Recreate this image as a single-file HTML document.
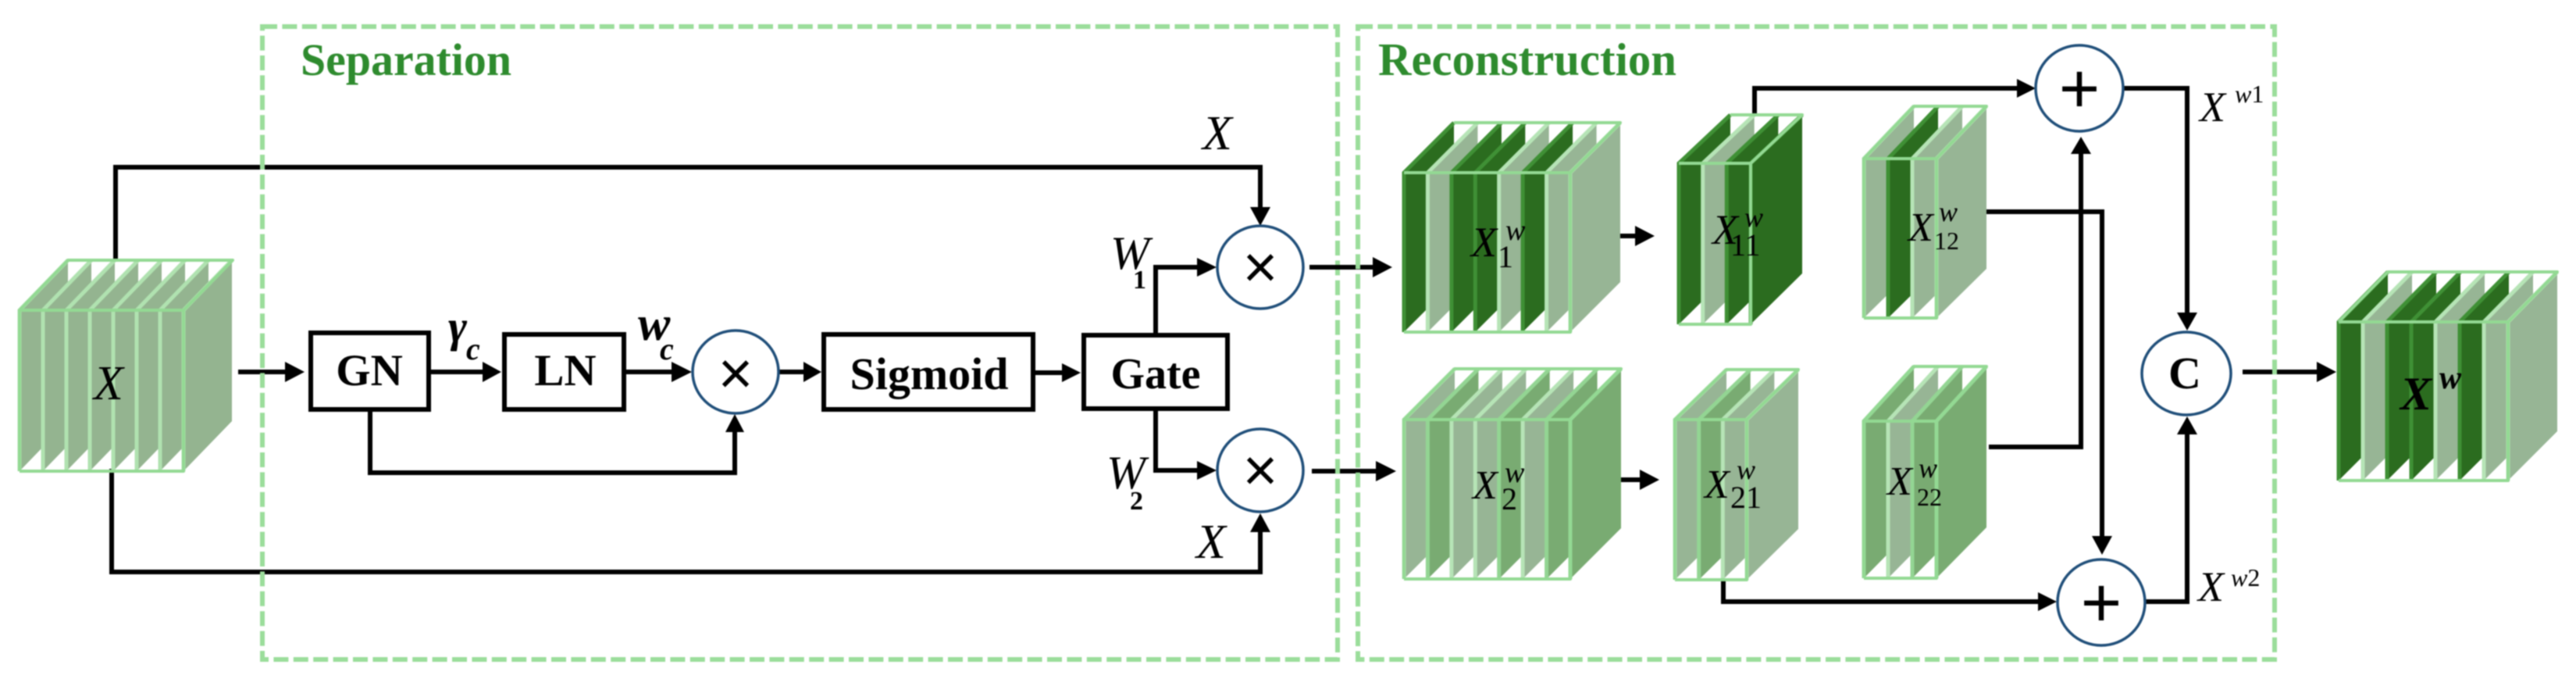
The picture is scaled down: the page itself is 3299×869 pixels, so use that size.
<!DOCTYPE html>
<html><head><meta charset="utf-8"><style>
html,body{margin:0;padding:0;background:#fff;width:3299px;height:869px;overflow:hidden}
svg{display:block;filter:blur(.9px)}
text{font-family:"Liberation Serif",serif;fill:#000}
.i{font-style:italic}.b{font-weight:bold}
.n{font-style:normal}
.sans{font-family:"Liberation Sans",sans-serif}
.l{fill:none;stroke:#000;stroke-width:6}
.box{fill:#fff;stroke:#000;stroke-width:6}
.c{fill:#fff;stroke:#1f4e79;stroke-width:3.5}
.d{fill:none;stroke:#9bdd9b;stroke-width:6;stroke-dasharray:19 6.4}
.fr{fill:none;stroke:#93d993;stroke-width:4;stroke-linejoin:round}
.t{fill:#2e8b2e;font-weight:bold}
.D{fill:#2b6c1f;stroke:#3f9035}
.L{fill:#97b595;stroke:#b6e4b6}
.M{fill:#79ab72;stroke:#93d593}
.G{fill:#94b490;stroke:#b0e2b0}
</style></head><body>
<svg width="3299" height="869" viewBox="0 0 3299 869" xmlns="http://www.w3.org/2000/svg">
<defs>
<g id="sx"><polygon stroke="none" points="0,206 0,0 62,-64 62,142"/><polyline fill="none" stroke-width="5" points="0,206 0,0 62,-64"/></g>
<g id="s1"><polygon stroke="none" points="0,204 0,0 64,-64 64,140"/><polyline fill="none" stroke-width="5" points="0,204 0,0 64,-64"/></g>
<g id="s2"><polygon stroke="none" points="0,204 0,0 65,-65 65,139"/><polyline fill="none" stroke-width="5" points="0,204 0,0 65,-65"/></g>
<g id="s11"><polygon stroke="none" points="0,206 0,0 66,-62 66,141"/><polyline fill="none" stroke-width="5" points="0,206 0,0 66,-62"/></g>
<g id="s21"><polygon stroke="none" points="0,205 0,0 66,-64 66,140"/><polyline fill="none" stroke-width="5" points="0,205 0,0 66,-64"/></g>
<g id="s12"><polygon stroke="none" points="0,204 0,0 64,-67 64,141"/><polyline fill="none" stroke-width="5" points="0,204 0,0 64,-67"/></g>
<g id="s22"><polygon stroke="none" points="0,201 0,0 64,-70 64,136"/><polyline fill="none" stroke-width="5" points="0,201 0,0 64,-70"/></g>
<g id="sw"><polygon stroke="none" points="0,203 0,0 63,-64 63,140"/><polyline fill="none" stroke-width="5" points="0,203 0,0 63,-64"/></g>
</defs>

<!-- connectors -->
<polyline class="l" points="148,333 148,214 1614,214 1614,268"/>
<polygon points="1601,265 1627,265 1614,289"/>
<polyline class="l" points="143,600 143,732 1614,732 1614,678"/>
<polygon points="1601,681 1627,681 1614,657"/>
<line class="l" x1="305" y1="476" x2="368" y2="476"/><polygon points="365,463 390,476 365,489"/>
<line class="l" x1="552" y1="476" x2="620" y2="476"/><polygon points="618,463 642,476 618,489"/>
<line class="l" x1="802" y1="476" x2="865" y2="476"/><polygon points="860,463 886,476 860,489"/>
<line class="l" x1="998" y1="476" x2="1032" y2="476"/><polygon points="1029,463 1052,476 1029,489"/>
<line class="l" x1="1326" y1="477" x2="1362" y2="477"/><polygon points="1360,465 1384,477 1360,489"/>
<polyline class="l" points="474,527 474,605 941,605 941,550"/><polygon points="929,553 953,553 941,530"/>
<polyline class="l" points="1480,428 1480,342 1536,342"/><polygon points="1533,330 1558,342 1533,354"/>
<polyline class="l" points="1480,526 1480,602 1536,602"/><polygon points="1533,590 1558,602 1533,614"/>
<line class="l" x1="1677" y1="342" x2="1762" y2="342"/><polygon points="1758,329 1783,342 1758,355"/>
<line class="l" x1="1680" y1="603" x2="1765" y2="603"/><polygon points="1762,590 1788,603 1762,616"/>
<line class="l" x1="2054" y1="302" x2="2098" y2="302"/><polygon points="2094,289 2119,302 2094,315"/>
<line class="l" x1="2061" y1="614" x2="2104" y2="614"/><polygon points="2100,601 2125,614 2100,627"/>
<polyline class="l" points="2247,148 2247,113 2588,113"/><polygon points="2583,101 2607,113 2583,125"/>
<polyline class="l" points="2207,740 2207,770 2614,770"/><polygon points="2610,758 2634,770 2610,782"/>
<polyline class="l" points="2719,113 2801,113 2801,404"/><polygon points="2788,400 2814,400 2801,423"/>
<polyline class="l" points="2747,770 2801,770 2801,552"/><polygon points="2788,556 2814,556 2801,533"/>
<polyline class="l" points="2543,271 2692,271 2692,690"/><polygon points="2679,686 2705,686 2692,710"/>
<polyline class="l" points="2547,572 2665,572 2665,193"/><polygon points="2652,197 2678,197 2665,175"/>
<line class="l" x1="2872" y1="476" x2="2972" y2="476"/><polygon points="2967,463 2992,476 2967,489"/>

<!-- dashed regions -->
<rect class="d" x="336" y="34" width="1377" height="810"/>
<rect class="d" x="1739" y="34" width="1174" height="810"/>
<line class="l" x1="1700" y1="342" x2="1728" y2="342"/>
<text class="t" x="385" y="96" font-size="58" textLength="270" lengthAdjust="spacingAndGlyphs">Separation</text>
<text class="t" x="1765" y="96" font-size="59" textLength="382" lengthAdjust="spacingAndGlyphs">Reconstruction</text>

<!-- X stack -->
<use href="#sx" class="G" x="25" y="397"/><use href="#sx" class="G" x="55" y="397"/><use href="#sx" class="G" x="85" y="397"/><use href="#sx" class="G" x="115" y="397"/><use href="#sx" class="G" x="145" y="397"/><use href="#sx" class="G" x="175" y="397"/><use href="#sx" class="G" x="205" y="397"/><use href="#sx" class="G" x="235" y="397"/>
<polyline class="fr" points="25,603 25,397 235,397 235,603 25,603"/><polyline class="fr" points="25,397 87,333 298,333 235,397"/>

<!-- X1 -->
<use href="#s1" class="D" x="1798" y="221"/><use href="#s1" class="L" x="1828.4" y="221"/><use href="#s1" class="D" x="1858.9" y="221"/><use href="#s1" class="D" x="1889.3" y="221"/><use href="#s1" class="L" x="1919.7" y="221"/><use href="#s1" class="D" x="1950.1" y="221"/><use href="#s1" class="L" x="1980.6" y="221"/><use href="#s1" class="L" x="2011" y="221"/>
<polyline class="fr" points="1798,425 2011,425 2011,221 1798,221"/><polyline class="fr" points="1862,157 2075,157 2011,221"/>

<!-- X2 -->
<use href="#s2" class="L" x="1798" y="537"/><use href="#s2" class="M" x="1828.4" y="537"/><use href="#s2" class="L" x="1858.9" y="537"/><use href="#s2" class="L" x="1889.3" y="537"/><use href="#s2" class="M" x="1919.7" y="537"/><use href="#s2" class="L" x="1950.1" y="537"/><use href="#s2" class="M" x="1980.6" y="537"/><use href="#s2" class="M" x="2011" y="537"/>
<polyline class="fr" points="1798,741 1798,537 2011,537 2011,741 1798,741"/><polyline class="fr" points="1798,537 1863,472 2076,472 2011,537"/>

<!-- X11 -->
<use href="#s11" class="D" x="2150" y="209"/><use href="#s11" class="L" x="2180.7" y="209"/><use href="#s11" class="D" x="2211.3" y="209"/><use href="#s11" class="D" x="2242" y="209"/>
<polyline class="fr" points="2150,415 2242,415 2242,209 2150,209"/><polyline class="fr" points="2216,147 2308,147 2242,209"/>

<!-- X21 -->
<use href="#s21" class="L" x="2145" y="537"/><use href="#s21" class="M" x="2175.7" y="537"/><use href="#s21" class="L" x="2206.3" y="537"/><use href="#s21" class="L" x="2237" y="537"/>
<polyline class="fr" points="2145,742 2145,537 2237,537 2237,742 2145,742"/><polyline class="fr" points="2145,537 2211,473 2303,473 2237,537"/>

<!-- X12 -->
<use href="#s12" class="L" x="2387" y="203"/><use href="#s12" class="D" x="2418" y="203"/><use href="#s12" class="L" x="2449" y="203"/><use href="#s12" class="L" x="2480" y="203"/>
<polyline class="fr" points="2387,407 2387,203 2480,203 2480,407 2387,407"/><polyline class="fr" points="2387,203 2451,136 2544,136 2480,203"/>

<!-- X22 -->
<use href="#s22" class="M" x="2387" y="539"/><use href="#s22" class="L" x="2418" y="539"/><use href="#s22" class="M" x="2449" y="539"/><use href="#s22" class="M" x="2480" y="539"/>
<polyline class="fr" points="2387,740 2387,539 2480,539 2480,740 2387,740"/><polyline class="fr" points="2387,539 2451,469 2544,469 2480,539"/>

<!-- Xw -->
<use href="#sw" class="D" x="2995" y="412"/><use href="#sw" class="L" x="3026" y="412"/><use href="#sw" class="D" x="3057" y="412"/><use href="#sw" class="D" x="3088" y="412"/><use href="#sw" class="L" x="3119" y="412"/><use href="#sw" class="D" x="3150" y="412"/><use href="#sw" class="L" x="3181" y="412"/><use href="#sw" class="L" x="3212" y="412"/>
<polyline class="fr" points="2995,615 3212,615 3212,412 2995,412"/><polyline class="fr" points="2995,412 3058,348 3275,348 3212,412"/>

<!-- boxes -->
<rect class="box" x="398" y="426" width="151" height="98"/>
<rect class="box" x="646" y="428" width="153" height="96"/>
<rect class="box" x="1055" y="428" width="268" height="96"/>
<rect class="box" x="1388" y="429" width="184" height="94"/>
<text class="b" x="473" y="493" font-size="57" text-anchor="middle">GN</text>
<text class="b" x="724" y="493" font-size="57" text-anchor="middle">LN</text>
<text class="b" x="1190" y="498" font-size="58" text-anchor="middle">Sigmoid</text>
<text class="b" x="1480" y="497" font-size="56" text-anchor="middle">Gate</text>

<!-- circles -->
<ellipse class="c" cx="942" cy="476" rx="55" ry="53"/>
<ellipse class="c" cx="1614" cy="342" rx="55" ry="53"/>
<ellipse class="c" cx="1614" cy="602" rx="55" ry="53"/>
<ellipse class="c" cx="2663" cy="113" rx="56" ry="55"/>
<ellipse class="c" cx="2691" cy="771" rx="56" ry="55"/>
<ellipse class="c" cx="2800" cy="478" rx="57" ry="53"/>
<text class="sans" x="942" y="504" font-size="77" text-anchor="middle">×</text>
<text class="sans" x="1614" y="368" font-size="77" text-anchor="middle">×</text>
<text class="sans" x="1614" y="628" font-size="77" text-anchor="middle">×</text>
<text class="sans" x="2663" y="144" font-size="90" text-anchor="middle">+</text>
<text class="sans" x="2691" y="802" font-size="90" text-anchor="middle">+</text>
<text class="b" x="2798" y="497" font-size="58" text-anchor="middle">C</text>

<!-- labels -->
<text class="i" x="120" y="511" font-size="62">X</text>
<text class="i b" x="574" y="437" font-size="58">γ</text><text class="i b" x="597" y="460" font-size="40">c</text>
<text class="i b" x="817" y="435" font-size="62">w</text><text class="i b" x="845" y="460" font-size="40">c</text>
<text class="i" x="1540" y="191" font-size="62">X</text>
<text class="i" x="1532" y="714" font-size="62">X</text>
<text class="i" x="1422" y="344" font-size="60">W</text><text class="b" x="1451" y="369" font-size="34">1</text>
<text class="i" x="1417" y="625" font-size="60">W</text><text class="b" x="1447" y="652" font-size="34">2</text>

<text class="i" x="1884" y="328" font-size="54">X</text><text class="i" x="1928" y="307" font-size="38">w</text><text x="1918" y="342" font-size="40">1</text>
<text class="i" x="1886" y="638" font-size="52">X</text><text class="i" x="1927" y="617" font-size="38">w</text><text x="1923" y="652" font-size="40">2</text>
<text class="i" x="2193" y="312" font-size="54">X</text><text class="i" x="2234" y="290" font-size="36">w</text><text x="2216" y="327" font-size="40">11</text>
<text class="i" x="2183" y="637" font-size="52">X</text><text class="i" x="2224" y="613" font-size="36">w</text><text x="2216" y="650" font-size="40">21</text>
<text class="i" x="2444" y="308" font-size="52">X</text><text class="i" x="2483" y="283" font-size="36">w</text><text x="2477" y="319" font-size="32">12</text>
<text class="i" x="2417" y="633" font-size="52">X</text><text class="i" x="2457" y="611" font-size="36">w</text><text x="2455" y="647" font-size="32">22</text>
<text class="i b" x="3074" y="524" font-size="60">X</text><text class="i b" x="3124" y="497" font-size="42">w</text>
<text class="i" x="2817" y="155" font-size="54">X</text><text class="i" x="2862" y="131" font-size="32">w<tspan class="n">1</tspan></text>
<text class="i" x="2815" y="769" font-size="54">X</text><text class="i" x="2857" y="750" font-size="32">w<tspan class="n">2</tspan></text>
</svg>
</body></html>
